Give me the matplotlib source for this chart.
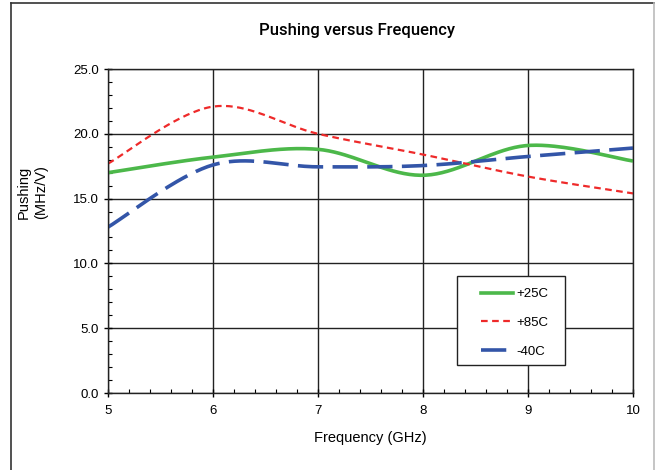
import numpy as np
import matplotlib
matplotlib.use("Agg")
import matplotlib.pyplot as plt
from matplotlib.lines import Line2D
from matplotlib.patches import Rectangle
from matplotlib.ticker import MultipleLocator

freq = [5, 6, 7, 8, 9, 10]
p25 = [17.0, 18.2, 18.8, 16.8, 19.1, 17.9]
p85 = [17.7, 22.1, 20.0, 18.4, 16.7, 15.4]
m40 = [12.8, 17.6, 17.45, 17.55, 18.25, 18.9]
labels = ["+25C", "+85C", "-40C"]
colors = ["#4cb84a", "#ee2a2a", "#3355a8"]


def smooth(x, y, n=40):
    x = np.asarray(x, float)
    y = np.asarray(y, float)
    P = np.column_stack([x, y])
    out = []
    for i in range(len(P) - 1):
        p0 = P[i - 1] if i > 0 else P[i]
        p1 = P[i]
        p2 = P[i + 1]
        p3 = P[i + 2] if i + 2 < len(P) else P[i + 1]
        c1 = p1 + (p2 - p0) / 6.0
        c2 = p2 - (p3 - p1) / 6.0
        t = np.linspace(0, 1, n)[:, None]
        seg = ((1 - t) ** 3) * p1 + 3 * ((1 - t) ** 2) * t * c1 + 3 * (1 - t) * t ** 2 * c2 + t ** 3 * p2
        out.append(seg if i == 0 else seg[1:])
    s = np.vstack(out)
    return s[:, 0], s[:, 1]


plt.rcParams['font.family'] = ['Liberation Sans', 'DejaVu Sans']
fig = plt.figure(figsize=(6.55, 4.70), dpi=100)
ax = fig.add_axes([108 / 655, 1 - 393 / 470, (633 - 108) / 655, (393 - 69) / 470])

ax.grid(True, which='major', color='#222222', lw=1.0)
ax.set_axisbelow(True)

blue_dash = (7, 2.6)
red_dash = (3, 2)
x, y = smooth(freq, p25)
ax.plot(x, y, color=colors[0], lw=2.6, solid_capstyle='butt')
x, y = smooth(freq, p85)
ax.plot(x, y, color=colors[1], lw=1.6, dashes=red_dash)
x, y = smooth(freq, m40)
ax.plot(x, y, color=colors[2], lw=2.6, dashes=blue_dash)

ax.set_xlim(5, 10)
ax.set_ylim(0, 25)
ax.xaxis.set_major_locator(MultipleLocator(1))
ax.xaxis.set_minor_locator(MultipleLocator(0.2))
ax.yaxis.set_minor_locator(MultipleLocator(1))
ax.set_yticks(np.arange(0, 25.1, 5))
ax.set_yticklabels([f"{v:.1f}" for v in np.arange(0, 25.1, 5)])
ax.tick_params(which='major', direction='inout', length=6, width=1, labelsize=9.5, color='black')
ax.tick_params(which='minor', direction='in', length=3, width=0.8, color='black')
ax.tick_params(axis='x', pad=6)
for s in ax.spines.values():
    s.set_color('#222222')
    s.set_linewidth(1.0)

ax.set_xlabel("Frequency (GHz)", fontsize=10.5, labelpad=10)
fig.text(24 / 655, 1 - 192 / 470, "Pushing", rotation=90, ha='center', va='center', fontsize=10.5)
fig.text(41 / 655, 1 - 192 / 470, "(MHz/V)", rotation=90, ha='center', va='center', fontsize=10.5)
fig.text(357 / 655, 1 - 31 / 470, "Pushing versus Frequency", ha='center', va='center',
         fontsize=12, family=['Roboto', 'DejaVu Sans'], fontweight='medium')

# legend box
ax.add_patch(Rectangle(((457 - 108) / 525, (393 - 365) / 324), (565 - 457) / 525, (365 - 276) / 324,
                       transform=ax.transAxes, facecolor='white', edgecolor='#222222', lw=1.0, zorder=5))
handles = [Line2D([], [], color=colors[0], lw=2.6),
           Line2D([], [], color=colors[1], lw=1.6, dashes=red_dash),
           Line2D([], [], color=colors[2], lw=2.6, dashes=blue_dash)]
leg = ax.legend(handles, labels, loc='upper left',
                bbox_to_anchor=((481 - 108) / 525, (393 - 288) / 324),
                frameon=False, fontsize=9.5, handlelength=2.4, handletextpad=0.25,
                labelspacing=1.25, borderpad=0.0, borderaxespad=0)
leg.set_zorder(6)

# outer border
fig.add_artist(Line2D([11 / 655, 11 / 655], [0, 1 - 3 / 470], color='#333333', lw=1.2, transform=fig.transFigure))
fig.add_artist(Line2D([11 / 655, 1], [1 - 3 / 470, 1 - 3 / 470], color='#333333', lw=1.2, transform=fig.transFigure))
fig.add_artist(Line2D([653.5 / 655, 653.5 / 655], [0, 1 - 3 / 470], color='#bbbbbb', lw=1.2, transform=fig.transFigure))

fig.savefig("out.png", dpi=100)
